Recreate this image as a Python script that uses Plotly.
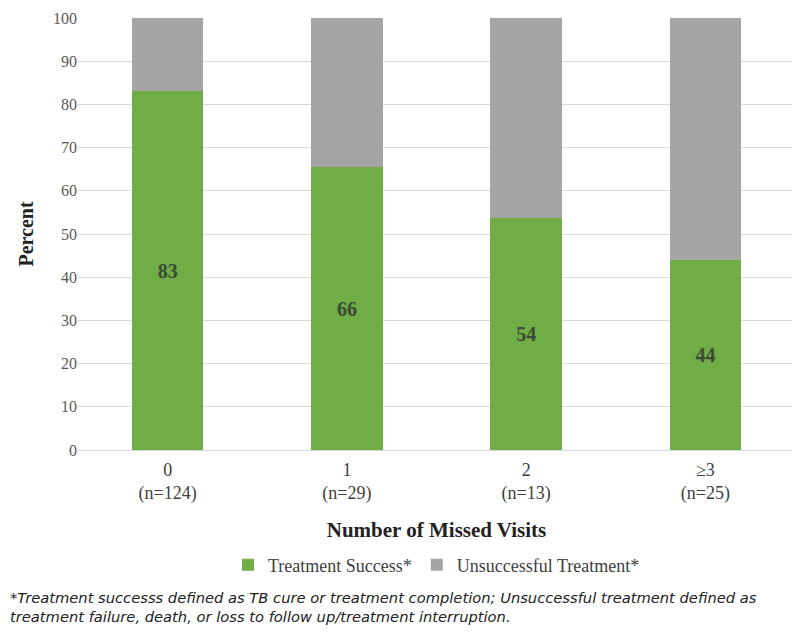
import plotly.graph_objects as go

categories = ['0<br>(n=124)', '1<br>(n=29)', '2<br>(n=13)', '≥3<br>(n=25)']
success = [83, 65.5, 53.8, 43.9]
success_labels = ['83', '66', '54', '44']
unsuccessful = [100 - v for v in success]

serif = 'Liberation Serif, Times New Roman, serif'

# page body adds an 8px offset, so the layout is shifted up/left by 8px
fig = go.Figure()

fig.add_trace(go.Bar(x=categories,
                     y=success,
                     name='Treatment Success*',
                     marker=dict(color='#70AD47', line=dict(width=0)),
                     text=success_labels,
                     textposition='inside',
                     insidetextanchor='middle',
                     textangle=0,
                     textfont=dict(family=serif, size=20, color='#3b4a32', weight='bold')))

fig.add_trace(go.Bar(x=categories,
                     y=unsuccessful,
                     name='Unsuccessful Treatment*',
                     marker=dict(color='#A5A5A5', line=dict(width=0)),
                     hoverinfo='skip'))

fig.update_layout(barmode='stack',
                  bargap=0.6,
                  width=800,
                  height=637,
                  margin=dict(l=70, r=13, t=10, b=195, autoexpand=False),
                  plot_bgcolor='white',
                  paper_bgcolor='white',
                  font=dict(family=serif, color='#404040'),
                  legend=dict(orientation='h',
                              x=0.5, xanchor='center',
                              yref='container',
                              y=1 - 557 / 637, yanchor='middle',
                              font=dict(family=serif, size=18, color='#404040'),
                              traceorder='normal',
                              itemwidth=30),
                  showlegend=True)

fig.update_yaxes(range=[0, 100],
                 dtick=10,
                 showgrid=True,
                 gridcolor='#d9d9d9',
                 gridwidth=1,
                 zeroline=False,
                 tickfont=dict(family=serif, size=16, color='#595959'),
                 ticks='',
                 title=dict(text='<b>Percent</b>',
                            font=dict(family=serif, size=20, color='#222222'),
                            standoff=14))

fig.update_xaxes(showline=True,
                 linecolor='#d9d9d9',
                 linewidth=1,
                 ticklabelstandoff=3,
                 tickfont=dict(family=serif, size=18, color='#404040'),
                 title=dict(text='<b>Number of Missed Visits</b>',
                            font=dict(family=serif, size=21, color='#222222'),
                            standoff=19))

fig.add_annotation(text='*Treatment successs defined as TB cure or treatment completion; Unsuccessful treatment defined as<br>'
                        'treatment failure, death, or loss to follow up/treatment interruption.',
                   xref='paper', yref='paper',
                   x=-70 / 717, y=-(579 - 442) / 432,
                   xanchor='left', yanchor='top',
                   align='left',
                   showarrow=False,
                   font=dict(family='DejaVu Sans, sans-serif', size=14.7,
                             color='#222222', style='italic'))

fig.write_html('out.html')
